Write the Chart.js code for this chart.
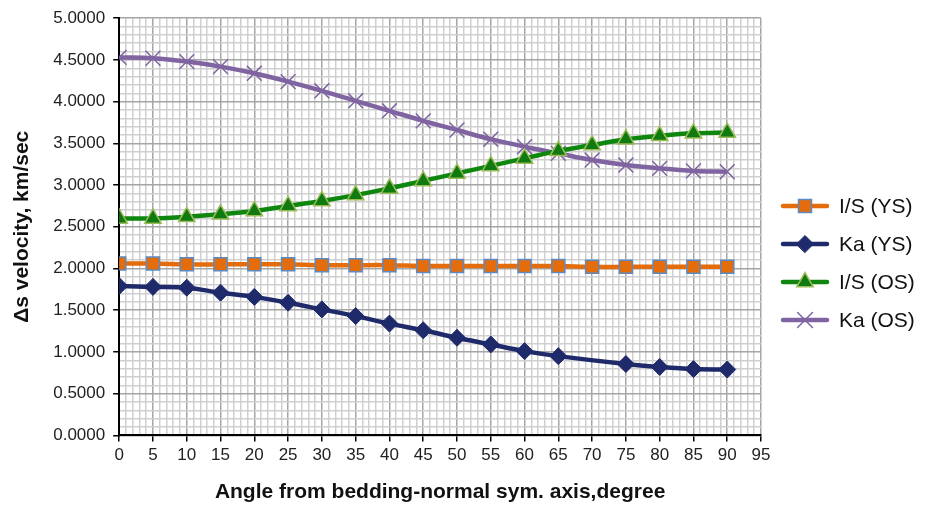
<!DOCTYPE html>
<html>
<head>
<meta charset="utf-8">
<script src="https://cdn.jsdelivr.net/npm/chart.js@4.4.1/dist/chart.umd.min.js"></script>
<style>
  html, body { margin: 0; padding: 0; background: #fff; }
  #wrap { width: 930px; height: 505px; }
</style>
</head>
<body>
<div id="wrap"><canvas id="velocityChart"></canvas></div>
<script>
// Angles (degrees) and shear-wave velocity differences (km/sec)
const angles = [0, 5, 10, 15, 20, 25, 30, 35, 40, 45, 50, 55, 60, 65, 70, 75, 80, 85, 90]
const isYS = [2.06, 2.06, 2.05, 2.05, 2.05, 2.05, 2.04, 2.04, 2.04, 2.03, 2.03, 2.03, 2.03, 2.03, 2.02, 2.02, 2.02, 2.02, 2.02]
const kaYS = [1.79, 1.78, 1.77, 1.71, 1.66, 1.59, 1.51, 1.43, 1.34, 1.26, 1.17, 1.09, 1.01, 0.95, null, 0.855, 0.82, 0.795, 0.79]
const isOS = [2.60, 2.60, 2.62, 2.65, 2.69, 2.75, 2.81, 2.88, 2.96, 3.05, 3.14, 3.23, 3.32, 3.41, 3.48, 3.55, 3.59, 3.62, 3.63]
const kaOS = [4.53, 4.52, 4.48, 4.42, 4.34, 4.24, 4.13, 4.01, 3.89, 3.77, 3.66, 3.55, 3.46, 3.38, 3.30, 3.24, 3.20, 3.17, 3.16]
const seriesNames = ["I/S (YS)", "Ka (YS)", "I/S (OS)", "Ka (OS)"]

const FONT = "'Liberation Sans', Arial, sans-serif"

function toPoints(values) {
  return angles.map((a, i) => ({ x: a, y: values[i] }))
}

// Legend to the right of the plot: line sample with marker in the middle
const sideLegend = {
  id: "sideLegend",
  afterDraw(chart) {
    const ctx = chart.ctx
    const x0 = chart.chartArea.right + 22
    chart.data.datasets.forEach((ds, i) => {
      const y = 206 + i * 38
      ctx.save()
      ctx.strokeStyle = ds.borderColor
      ctx.lineWidth = ds.borderWidth
      ctx.lineCap = "round"
      ctx.beginPath()
      ctx.moveTo(x0, y)
      ctx.lineTo(x0 + 44, y)
      ctx.stroke()
      ctx.fillStyle = ds.pointBackgroundColor
      ctx.strokeStyle = ds.pointBorderColor
      ctx.lineWidth = ds.pointBorderWidth
      Chart.helpers.drawPoint(ctx, { pointStyle: ds.pointStyle, radius: ds.pointRadius, rotation: 0, borderWidth: ds.pointBorderWidth }, x0 + 22, y)
      ctx.fillStyle = "#111"
      ctx.font = "21px " + FONT
      ctx.textBaseline = "middle"
      ctx.fillText(ds.label, x0 + 56, y + 1)
      ctx.restore()
    })
  },
}

const ctx = document.getElementById("velocityChart").getContext("2d")
new Chart(ctx, {
  type: "line",
  data: {
    datasets: [
      {
        label: seriesNames[0],
        data: toPoints(isYS),
        borderColor: "#E46C0A",
        borderWidth: 4.5,
        pointStyle: "rect",
        pointRadius: 9.2,
        pointBackgroundColor: "#E46C0A",
        pointBorderColor: "#5B8BC6",
        pointBorderWidth: 1.5,
        tension: 0.35,
      },
      {
        label: seriesNames[1],
        data: toPoints(kaYS),
        borderColor: "#1F2A6B",
        borderWidth: 4.5,
        pointStyle: "rectRot",
        pointRadius: 8.5,
        pointBackgroundColor: "#1F2A6B",
        pointBorderColor: "#1F2A6B",
        pointBorderWidth: 1,
        spanGaps: true,
        tension: 0.35,
      },
      {
        label: seriesNames[2],
        data: toPoints(isOS),
        borderColor: "#0F870F",
        borderWidth: 4.5,
        pointStyle: "triangle",
        pointRadius: 9.5,
        pointBackgroundColor: "#0F7A0F",
        pointBorderColor: "#9BBB59",
        pointBorderWidth: 1.5,
        tension: 0.35,
      },
      {
        label: seriesNames[3],
        data: toPoints(kaOS),
        borderColor: "#8064A2",
        borderWidth: 4.5,
        pointStyle: "crossRot",
        pointRadius: 10.5,
        pointBackgroundColor: "#8064A2",
        pointBorderColor: "#8064A2",
        pointBorderWidth: 1.5,
        tension: 0.35,
      },
    ],
  },
  options: {
    responsive: true,
    maintainAspectRatio: false,
    animation: false,
    layout: { padding: { left: 10, right: 169, top: 7, bottom: 0 } },
    plugins: {
      legend: { display: false },
      tooltip: { enabled: false },
    },
    scales: {
      x: {
        type: "linear",
        min: 0,
        max: 95,
        ticks: {
          stepSize: 1,
          autoSkip: false,
          maxRotation: 0,
          color: "#222",
          font: { family: FONT, size: 17 },
          padding: 4,
          callback: (v) => (v % 5 === 0 ? String(v) : ""),
        },
        grid: {
          color: (c) => (c.tick && c.tick.value % 5 === 0 ? "#a6a6a6" : "#cfcfcf"),
          lineWidth: 1.5,
          tickColor: (c) => (c.tick && c.tick.value % 5 === 0 ? "#000" : "rgba(0,0,0,0)"),
          tickLength: 6,
        },
        border: { color: "#000", width: 2 },
        title: {
          display: true,
          text: "Angle from bedding-normal sym. axis,degree",
          color: "#111",
          font: { family: FONT, size: 21, weight: "bold" },
          padding: { top: 10, bottom: 0 },
        },
      },
      y: {
        min: 0,
        max: 5,
        ticks: {
          stepSize: 0.1,
          autoSkip: false,
          color: "#222",
          font: { family: FONT, size: 17 },
          padding: 8,
          callback: (v) => (Math.round(v * 10) % 5 === 0 ? v.toFixed(4) : ""),
        },
        grid: {
          color: (c) => (c.tick && Math.round(c.tick.value * 10) % 5 === 0 ? "#a6a6a6" : "#cfcfcf"),
          lineWidth: 1.5,
          tickColor: (c) => (c.tick && Math.round(c.tick.value * 10) % 5 === 0 ? "#000" : "rgba(0,0,0,0)"),
          tickLength: 6,
        },
        border: { color: "#000", width: 2 },
        title: {
          display: true,
          text: "Δs velocity, km/sec",
          color: "#111",
          font: { family: FONT, size: 21, weight: "bold" },
          padding: { top: 0, bottom: 10 },
        },
      },
    },
  },
  plugins: [sideLegend],
})
</script>
</body>
</html>
